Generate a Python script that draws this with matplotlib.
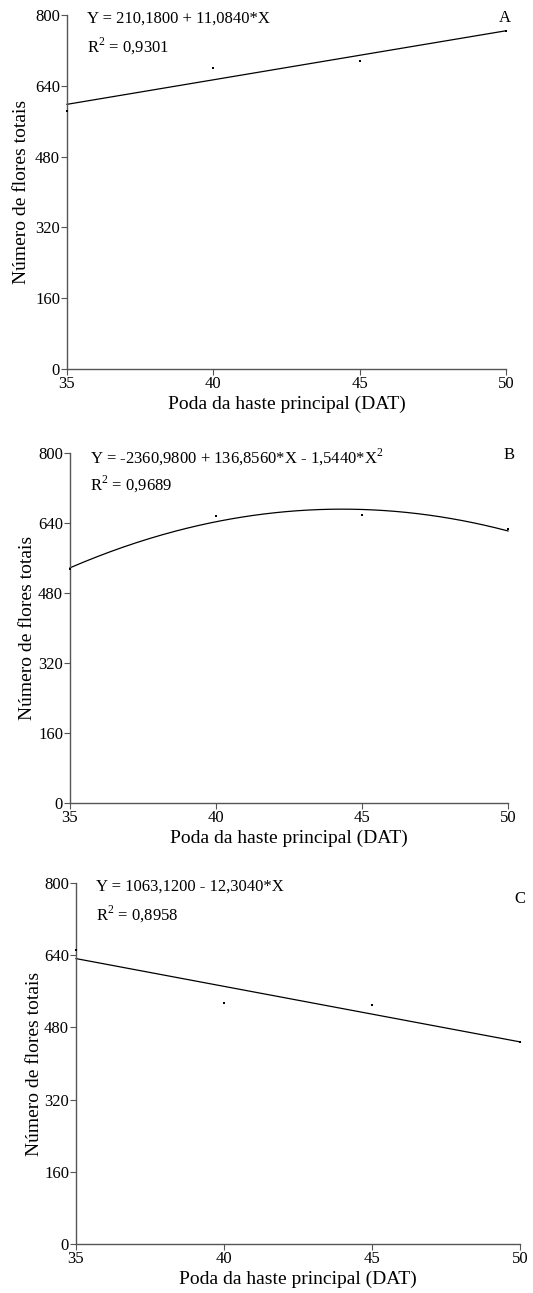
import matplotlib
matplotlib.use('Agg')
import matplotlib.pyplot as plt
import numpy as np

plt.rcParams['font.family'] = ['Liberation Serif', 'DejaVu Serif']
plt.rcParams['mathtext.fontset'] = 'custom'
plt.rcParams['mathtext.rm'] = 'Liberation Serif'

# Poda da haste principal (DAT)
dat = [35, 40, 45, 50]

# Número de flores totais observado em cada painel
flores_a = [584, 681, 695, 764]
flores_b = [534, 655, 659, 626]
flores_c = [651, 533, 530, 447]

# Coeficientes das regressões (maior grau primeiro, para np.polyval)
coef_a = [11.0840, 210.1800]
coef_b = [-1.5440, 136.8560, -2360.9800]
coef_c = [-12.3040, 1063.1200]

eq_a = 'Y = 210,1800 + 11,0840*X'
eq_b = 'Y = -2360,9800 + 136,8560*X - 1,5440*X$^{2}$'
eq_c = 'Y = 1063,1200 - 12,3040*X'
r2_a = 'R$^{2}$ = 0,9301'
r2_b = 'R$^{2}$ = 0,9689'
r2_c = 'R$^{2}$ = 0,8958'

yticks = [0, 160, 320, 480, 640, 800]
xticks = [35, 40, 45, 50]

W, H = 533, 1293
fig = plt.figure(figsize=(W / 100, H / 100), dpi=100)

# (left, right, top, bottom) em pixels para cada painel
boxes = [(67, 506, 15, 369), (70, 508, 453, 803), (76, 520, 883, 1244)]
ylab_x = [22, 28, 35]
letter_pos = [(505, 18), (509, 455), (520, 899)]

panels = [
    (flores_a, coef_a, eq_a, r2_a, 'A'),
    (flores_b, coef_b, eq_b, r2_b, 'B'),
    (flores_c, coef_c, eq_c, r2_c, 'C'),
]

axis_color = '#555555'

for (obs, coef, eq, r2, letra), (l, r, t, b), yl, (lx, ly) in zip(panels, boxes, ylab_x, letter_pos):
    ax = fig.add_axes([l / W, 1 - b / H, (r - l) / W, (b - t) / H])
    wpx, hpx = r - l, b - t

    xs = np.linspace(35, 50, 200)
    ax.plot(xs, np.polyval(coef, xs), color='black', lw=0.9, clip_on=False)
    ax.scatter(dat, obs, s=2.5, marker='s', color='black', linewidths=0,
               zorder=3, clip_on=False)

    ax.set_xlim(35, 50)
    ax.set_ylim(0, 800)
    ax.set_xticks(xticks)
    ax.set_yticks(yticks)
    ax.tick_params(labelsize=12, length=4, width=0.8, color=axis_color, pad=1)
    for side in ['top', 'right']:
        ax.spines[side].set_visible(False)
    for side in ['left', 'bottom']:
        ax.spines[side].set_color(axis_color)
        ax.spines[side].set_linewidth(1.0)

    ax.set_xlabel('Poda da haste principal (DAT)', fontsize=14, va='center')
    ax.xaxis.set_label_coords(0.5, -35 / hpx)
    ax.set_ylabel('Número de flores totais', fontsize=14, va='center')
    ax.yaxis.set_label_coords((yl - l) / wpx, 0.5)

    ax.text(20 / wpx, 1 - 4 / hpx, eq, transform=ax.transAxes, fontsize=12,
            ha='left', va='center')
    ax.text(20 / wpx, 1 - 31 / hpx, r2, transform=ax.transAxes, fontsize=12,
            ha='left', va='center')
    fig.text(lx / W, 1 - ly / H, letra, fontsize=12, ha='center', va='center')

fig.savefig('out.png', dpi=100)
